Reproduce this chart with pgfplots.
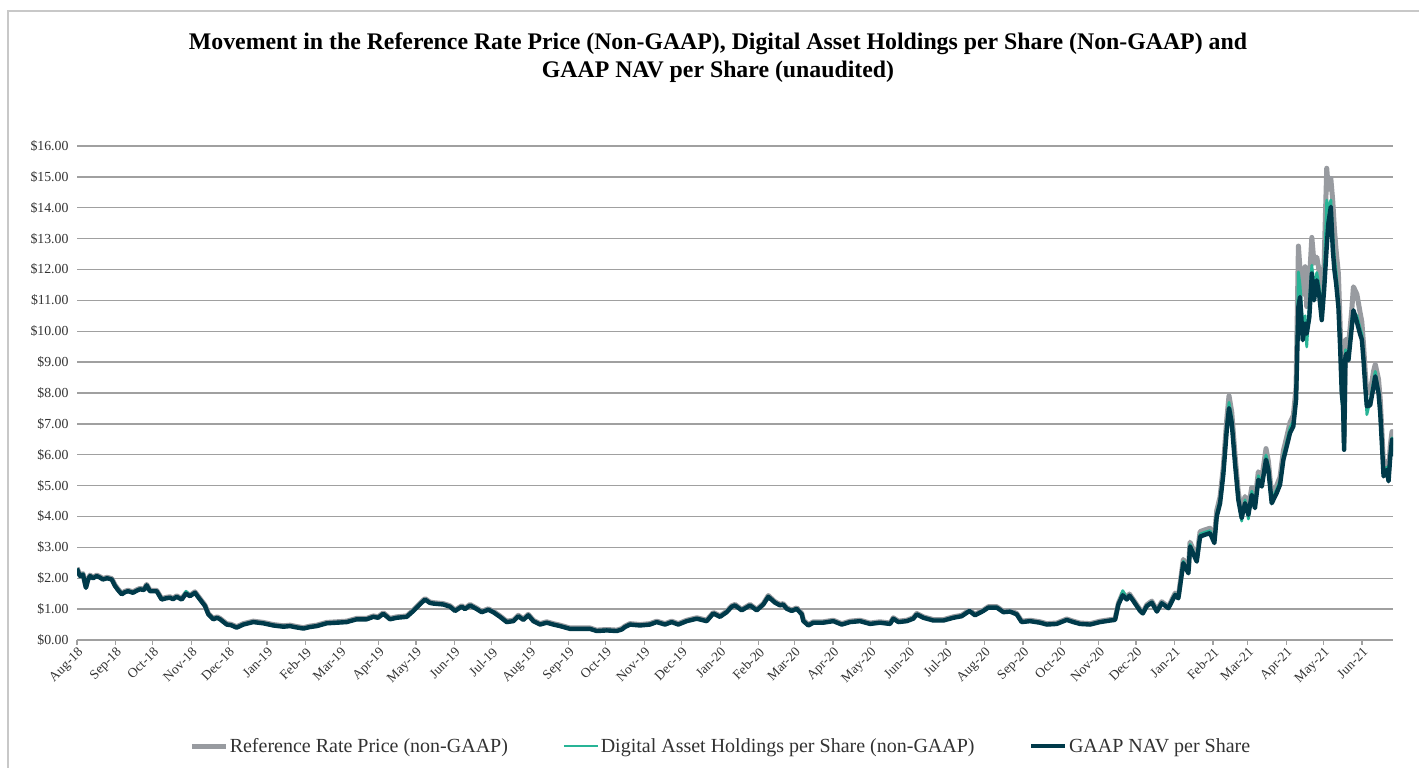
\documentclass[border=0pt]{standalone}
\usepackage{fontspec}
\setmainfont{Liberation Serif}
\usepackage{pgfplots}
\pgfplotsset{compat=1.18}
\usepackage{pgfplotstable}
\definecolor{refgray}{RGB}{152,155,160}
\definecolor{dahteal}{RGB}{40,180,150}
\definecolor{navdark}{RGB}{0,58,74}
\definecolor{gridgray}{RGB}{160,160,160}
\definecolor{framegray}{RGB}{200,200,200}
\definecolor{labelgray}{RGB}{50,50,50}

\pgfplotstableread{
d nav dah ref
0 2.31 2.31 2.34
1.0 2.20 2.22 2.24
2.4 2.07 2.08 2.10
4.8 2.12 2.14 2.15
7.2 1.69 1.70 1.72
8.9 1.95 1.96 1.98
10.5 2.07 2.09 2.10
12.9 2.00 2.01 2.03
15.9 2.07 2.08 2.10
18.5 2.02 2.03 2.05
20.9 1.96 1.97 1.99
24.2 2.00 2.01 2.03
28.0 1.96 1.97 1.99
30.6 1.75 1.76 1.78
33.0 1.62 1.63 1.65
36.0 1.48 1.49 1.51
38.7 1.55 1.56 1.58
41.1 1.58 1.59 1.61
45.1 1.53 1.54 1.56
48.3 1.60 1.61 1.63
50.7 1.64 1.65 1.67
54.0 1.62 1.63 1.65
56.1 1.77 1.78 1.80
58.8 1.58 1.59 1.61
64.2 1.58 1.59 1.61
68.2 1.31 1.32 1.34
71.7 1.35 1.36 1.38
74.9 1.37 1.38 1.40
77.3 1.32 1.33 1.35
80.3 1.40 1.41 1.43
84.3 1.31 1.32 1.34
87.8 1.50 1.58 1.53
91.0 1.42 1.43 1.45
95.0 1.53 1.54 1.56
99.1 1.31 1.32 1.34
103.1 1.10 1.11 1.13
105.8 0.83 0.84 0.86
109.8 0.67 0.68 0.70
112.8 0.72 0.73 0.75
115.2 0.67 0.68 0.70
120.6 0.50 0.51 0.53
124.0 0.48 0.49 0.51
128.6 0.40 0.41 0.43
134.0 0.50 0.51 0.53
142.0 0.58 0.59 0.61
150.1 0.54 0.55 0.57
158.1 0.47 0.48 0.50
166.2 0.43 0.44 0.46
171.6 0.45 0.46 0.48
176.4 0.41 0.42 0.44
182.3 0.37 0.38 0.40
187.7 0.42 0.43 0.45
193.1 0.45 0.46 0.48
201.1 0.54 0.55 0.57
209.2 0.56 0.57 0.59
217.2 0.58 0.59 0.61
225.3 0.67 0.68 0.70
233.3 0.67 0.68 0.70
238.7 0.75 0.76 0.78
242.5 0.72 0.73 0.75
246.7 0.85 0.86 0.88
252.1 0.67 0.68 0.70
257.5 0.72 0.73 0.75
265.6 0.75 0.76 0.78
270.9 0.94 0.95 0.97
274.9 1.10 1.11 1.13
277.9 1.22 1.23 1.25
280.3 1.31 1.32 1.34
284.3 1.20 1.21 1.23
287.0 1.18 1.19 1.21
295.0 1.15 1.16 1.18
300.4 1.08 1.09 1.11
304.5 0.94 0.95 0.97
309.9 1.08 1.09 1.11
312.5 1.00 1.01 1.03
316.6 1.12 1.13 1.15
322.0 1.00 1.01 1.03
326.0 0.90 0.91 0.93
331.3 0.98 0.99 1.01
335.3 0.90 0.91 0.93
340.7 0.75 0.76 0.78
346.1 0.58 0.59 0.61
351.4 0.61 0.62 0.64
355.5 0.77 0.78 0.80
359.5 0.65 0.66 0.68
363.5 0.80 0.81 0.83
367.6 0.61 0.62 0.64
373.0 0.50 0.51 0.53
378.3 0.56 0.57 0.59
383.7 0.50 0.51 0.53
389.1 0.45 0.46 0.48
397.1 0.36 0.37 0.39
405.2 0.36 0.37 0.39
413.2 0.36 0.37 0.39
418.6 0.29 0.30 0.32
426.7 0.31 0.32 0.34
434.7 0.29 0.30 0.32
438.8 0.34 0.35 0.37
441.4 0.42 0.43 0.45
445.4 0.50 0.51 0.53
453.5 0.47 0.48 0.50
461.5 0.50 0.51 0.53
466.9 0.58 0.59 0.61
473.6 0.50 0.51 0.53
479.0 0.58 0.59 0.61
484.3 0.50 0.51 0.53
491.1 0.61 0.62 0.64
499.2 0.69 0.70 0.72
507.2 0.61 0.62 0.64
512.5 0.86 0.87 0.89
517.9 0.75 0.76 0.78
523.3 0.90 0.91 0.93
527.4 1.08 1.09 1.11
530.0 1.12 1.13 1.15
535.4 0.96 0.97 0.99
542.1 1.12 1.13 1.15
547.5 0.96 0.97 0.99
552.8 1.15 1.16 1.18
556.8 1.40 1.42 1.44
562.2 1.21 1.22 1.24
566.3 1.12 1.13 1.15
568.7 1.15 1.16 1.18
571.7 1.01 1.02 1.04
575.7 0.94 0.95 0.97
579.7 1.01 1.02 1.04
583.8 0.83 0.84 0.86
585.1 0.61 0.62 0.64
589.1 0.47 0.48 0.50
593.1 0.56 0.57 0.59
601.1 0.56 0.57 0.59
609.2 0.61 0.62 0.64
616.0 0.50 0.51 0.53
622.7 0.58 0.59 0.61
630.7 0.61 0.62 0.64
638.8 0.52 0.53 0.55
646.8 0.56 0.57 0.59
654.9 0.52 0.53 0.55
657.5 0.69 0.70 0.72
661.6 0.58 0.59 0.61
668.3 0.61 0.62 0.64
673.6 0.69 0.70 0.72
676.4 0.83 0.84 0.86
681.7 0.72 0.73 0.75
689.8 0.63 0.64 0.66
697.8 0.63 0.64 0.66
705.9 0.72 0.73 0.75
712.6 0.77 0.78 0.80
718.8 0.94 0.95 0.97
723.3 0.80 0.81 0.83
730.0 0.94 0.95 0.97
734.1 1.05 1.06 1.08
740.8 1.05 1.06 1.08
746.2 0.90 0.91 0.93
751.5 0.92 0.93 0.95
756.9 0.83 0.84 0.86
760.9 0.58 0.59 0.61
767.6 0.61 0.62 0.64
775.7 0.56 0.57 0.59
781.1 0.50 0.51 0.53
789.1 0.52 0.53 0.55
797.2 0.65 0.66 0.68
802.5 0.58 0.59 0.61
807.9 0.52 0.53 0.55
816.0 0.50 0.51 0.53
824.0 0.58 0.59 0.61
832.1 0.63 0.64 0.66
836.1 0.65 0.66 0.68
838.8 1.15 1.17 1.19
842.3 1.45 1.60 1.52
845.6 1.31 1.34 1.37
847.7 1.44 1.46 1.49
850.9 1.26 1.28 1.30
856.3 0.94 0.96 0.98
858.5 0.86 0.88 0.90
861.7 1.10 1.12 1.14
865.7 1.21 1.23 1.26
869.8 0.92 0.94 0.96
873.7 1.19 1.21 1.24
879.1 1.03 1.05 1.07
884.5 1.46 1.49 1.52
887.1 1.35 1.38 1.41
891.1 2.49 2.55 2.61
895.2 2.16 2.21 2.26
896.5 3.03 3.10 3.17
901.9 2.54 2.60 2.66
904.6 3.35 3.43 3.51
908.6 3.41 3.49 3.57
912.6 3.46 3.54 3.62
916.1 3.14 3.21 3.29
918.0 4.00 4.10 4.19
920.7 4.43 4.54 4.64
923.3 5.35 5.48 5.60
926.1 6.81 6.98 7.15
927.9 7.51 7.70 7.91
930.1 7.03 7.20 7.38
932.7 5.73 5.87 6.02
935.4 4.54 4.65 4.77
938.1 3.95 3.85 4.15
940.8 4.43 4.54 4.65
943.5 4.05 3.92 4.25
946.2 4.70 4.82 4.94
948.8 4.27 4.38 4.48
951.5 5.19 5.32 5.45
954.3 4.97 5.09 5.22
957.7 5.84 5.99 6.20
959.6 5.51 5.65 5.79
962.3 4.43 4.54 4.65
966.3 4.76 4.88 5.00
969.0 5.03 5.16 5.28
971.7 5.84 5.99 6.13
974.4 6.27 6.43 6.58
977.0 6.70 6.87 7.04
979.7 6.92 7.09 7.27
981.9 7.78 7.97 8.17
983.8 10.79 11.92 12.76
985.1 11.11 11.50 12.00
987.3 9.71 10.20 11.20
989.2 10.25 10.50 12.09
990.5 9.92 9.49 10.80
992.6 10.46 10.90 11.60
994.6 11.87 12.14 13.04
996.4 11.00 11.40 12.20
998.6 11.65 11.90 12.40
1000.7 11.11 11.40 11.90
1002.6 10.36 10.60 11.00
1004.5 11.33 11.70 12.20
1006.6 12.74 14.25 15.28
1007.9 13.49 13.90 14.60
1009.9 14.03 14.25 14.95
1011.5 12.63 13.10 14.20
1012.8 11.98 12.40 13.30
1014.2 11.54 11.90 12.60
1016.0 10.79 11.00 11.87
1017.4 9.49 9.70 10.20
1018.7 8.00 7.80 8.40
1019.8 7.57 7.40 8.00
1020.6 6.16 6.30 6.40
1021.7 9.20 9.40 9.70
1022.8 9.28 9.20 9.75
1024.1 9.06 9.20 9.50
1026.8 10.14 10.40 10.70
1028.1 10.68 10.63 11.44
1030.9 10.30 10.50 11.20
1033.5 9.90 10.10 10.60
1034.9 9.73 9.90 10.30
1036.2 9.08 9.20 9.60
1037.6 8.22 8.40 8.70
1038.9 7.57 7.30 8.00
1041.6 7.60 7.75 8.00
1044.3 8.20 8.40 8.70
1045.7 8.54 8.70 8.93
1048.3 8.00 8.10 8.45
1049.7 7.35 7.50 7.80
1051.1 6.30 6.40 6.70
1052.4 5.30 5.40 5.60
1055.1 5.51 5.60 5.80
1056.4 5.14 5.25 5.45
1057.8 5.95 6.10 6.30
1059.2 6.49 6.55 6.75
1060 5.95 6.10 6.30
}\data

\begin{document}
\begin{tikzpicture}[x=1pt,y=1pt]
\path[use as bounding box] (0,0) rectangle (1419,768);
\draw[framegray, line width=1.5pt] (8,0) -- (8,757) -- (1419,757);
\node[font=\fontsize{23.8}{28}\selectfont\bfseries, align=center, inner sep=0pt] at (718,710)
 {Movement in the Reference Rate Price (Non-GAAP), Digital Asset Holdings per Share (Non-GAAP) and\\GAAP NAV per Share (unaudited)};
\begin{axis}[
  at={(77pt,128pt)}, anchor=south west, scale only axis,
  width=1316pt, height=494pt,
  xmin=0, xmax=1060, ymin=0, ymax=16,
  axis x line=bottom, axis y line=left,
  x axis line style={-, gridgray, line width=1.5pt},
  y axis line style={draw=none},
  xtick={0,31,61,92,122,153,184,212,243,273,304,334,365,396,426,457,487,518,549,578,609,639,670,700,731,762,792,823,853,884,915,943,974,1004,1035},
  xticklabels={Aug-18,Sep-18,Oct-18,Nov-18,Dec-18,Jan-19,Feb-19,Mar-19,Apr-19,May-19,Jun-19,Jul-19,Aug-19,Sep-19,Oct-19,Nov-19,Dec-19,Jan-20,Feb-20,Mar-20,Apr-20,May-20,Jun-20,Jul-20,Aug-20,Sep-20,Oct-20,Nov-20,Dec-20,Jan-21,Feb-21,Mar-21,Apr-21,May-21,Jun-21},
  ytick={0,1,2,3,4,5,6,7,8,9,10,11,12,13,14,15,16},
  yticklabels={\$0.00,\$1.00,\$2.00,\$3.00,\$4.00,\$5.00,\$6.00,\$7.00,\$8.00,\$9.00,\$10.00,\$11.00,\$12.00,\$13.00,\$14.00,\$15.00,\$16.00},
  ymajorgrids, grid style={gridgray, line width=1.3pt},
  tick align=outside, major tick length=5pt,
  xtick style={gridgray, line width=1.2pt},
  ytick style={draw=none},
  x tick label style={rotate=45, anchor=north east, font=\fontsize{13.5}{15}\selectfont, text=labelgray, inner sep=1pt},
  y tick label style={font=\fontsize{13.8}{15}\selectfont, text=labelgray},
  legend columns=3,
  legend style={at={(0.489,-0.2146)}, anchor=center, draw=none, fill=none,
    font=\fontsize{20}{22}\selectfont, text=labelgray,
    nodes={inner xsep=1.5pt},
    /tikz/every even column/.append style={column sep=53pt}},
  legend image code/.code={\draw[#1] (0pt,0pt) -- (34pt,0pt);},
  line join=round,
]
\addplot[refgray, line width=5pt, line join=round] table[x=d,y=ref]{\data};
\addplot[dahteal, line width=2.8pt, line join=round] table[x=d,y=dah]{\data};
\addplot[navdark, line width=4.4pt, line join=round] table[x=d,y=nav]{\data};
\legend{Reference Rate Price (non-GAAP),Digital Asset Holdings per Share (non-GAAP),GAAP NAV per Share}
\end{axis}
\end{tikzpicture}
\end{document}
